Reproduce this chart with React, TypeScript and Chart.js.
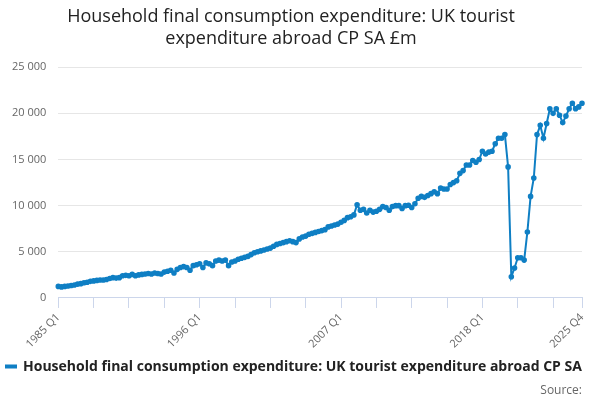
import React, { useEffect, useRef } from "react";
import { Chart, registerables } from "chart.js";
Chart.register(...registerables);

const startYear = 1985;
const endYear = 2025;
const values: number[] = [
  1250,1200,1250,1300, 1350,1400,1500,1550, 1650,1700,1800,1850, 1900,1950,1950,2000,
  2100,2200,2150,2200, 2400,2450,2400,2550, 2400,2500,2550,2600, 2650,2600,2700,2650,
  2600,2800,2900,3000, 2700,3100,3300,3400, 3300,3000,3500,3600, 3700,3300,3800,3700,
  3500,4000,4100,4000, 4100,3500,3900,4000, 4200,4300,4400,4500, 4700,4900,5000,5100,
  5200,5300,5400,5600, 5800,5900,6000,6100, 6200,6100,6000,6400, 6600,6700,6900,7000,
  7100,7200,7300,7400, 7700,7800,7900,8000, 8200,8400,8700,8800, 9000,10100,9500,9600,
  9200,9500,9300,9400, 9600,9900,9800,9500, 9900,10000,10000,9700, 10000,10050,9800,10200,
  10800,11000,10900,11100, 11300,11500,11300,11900, 11800,11800,12300,12500, 12700,13500,13800,14400,
  14400,14900,14700,15000, 15900,15600,15800,15900, 16700,17300,17300,17700, 14200,2300,3250,4350,
  4350,4100,7150,11000, 13000,17700,18700,17300, 18900,20500,20000,20500, 19800,19000,19700,20500,
  21100,20500,20700,21100,
];
const labels: string[] = [];
for (let y = startYear; y <= endYear; y++) for (let q = 1; q <= 4; q++) labels.push(`${y} Q${q}`);

const seriesName = "Household final consumption expenditure: UK tourist expenditure abroad CP SA £m";
const titleLines = ["Household final consumption expenditure: UK tourist", "expenditure abroad CP SA £m"];
const yTicks = [0, 5000, 10000, 15000, 20000, 25000];

export default function App() {
  const ref = useRef<HTMLCanvasElement>(null);
  useEffect(() => {
    const last = labels.length - 1;
    const chart = new Chart(ref.current!, {
      type: "line",
      data: {
        labels,
        datasets: [{
          label: seriesName,
          data: values,
          borderColor: "#0f7fc4",
          backgroundColor: "#0f7fc4",
          borderWidth: 2,
          pointRadius: 1.8,
          pointHoverRadius: 3,
          tension: 0,
        }],
      },
      options: {
        animation: false,
        responsive: false,
        layout: { padding: { left: 0, right: 18, top: 0, bottom: 0 } },
        plugins: {
          title: {
            display: true,
            text: titleLines,
            color: "#222",
            font: { family: "'Open Sans', sans-serif", size: 18, weight: 500 as any },
            padding: { top: 6, bottom: 18 },
            lineHeight: 1.25,
          },
          legend: {
            position: "bottom",
            align: "start",
            labels: {
              color: "#222",
              font: { family: "'Open Sans', sans-serif", size: 14, weight: "bold" },
              boxWidth: 10,
              boxHeight: 2,
              padding: 6,
            },
          },
          subtitle: {
            display: true,
            position: "bottom",
            align: "end",
            text: "Source:",
            color: "#666",
            font: { family: "'Open Sans', sans-serif", size: 12 },
            padding: { top: 0, bottom: 2 },
          },
          tooltip: { enabled: false },
        },
        scales: {
          x: {
            offset: false,
            grid: {
              drawOnChartArea: false,
              drawTicks: true,
              tickLength: 10,
              color: (c: any) => (c.index % 11 === 0 || c.index === last ? "#ccd6eb" : "rgba(0,0,0,0)"),
            },
            border: { color: "#ccd6eb" },
            ticks: {
              autoSkip: false,
              maxRotation: 45,
              minRotation: 45,
              color: "#666",
              font: { family: "'Open Sans', sans-serif", size: 11 },
              callback: (_v: any, i: number) => (i % 44 === 0 || i === last ? labels[i] : ""),
            },
          },
          y: {
            min: 0,
            max: 25000,
            afterBuildTicks: (s: any) => { s.ticks = yTicks.map((v) => ({ value: v })); },
            grid: { color: "#e6e6e6", drawTicks: false },
            border: { display: false },
            ticks: {
              padding: 12,
              color: "#666",
              font: { family: "'Open Sans', sans-serif", size: 11 },
              callback: (v: any) => Number(v).toLocaleString("en-US").replace(/,/g, " "),
            },
          },
        },
      },
    });
    return () => chart.destroy();
  }, []);
  return (
    <div style={{ position: "fixed", left: 0, top: 0, width: 600, height: 400, background: "#fff" }}>
      <canvas ref={ref} width={600} height={400} />
    </div>
  );
}
